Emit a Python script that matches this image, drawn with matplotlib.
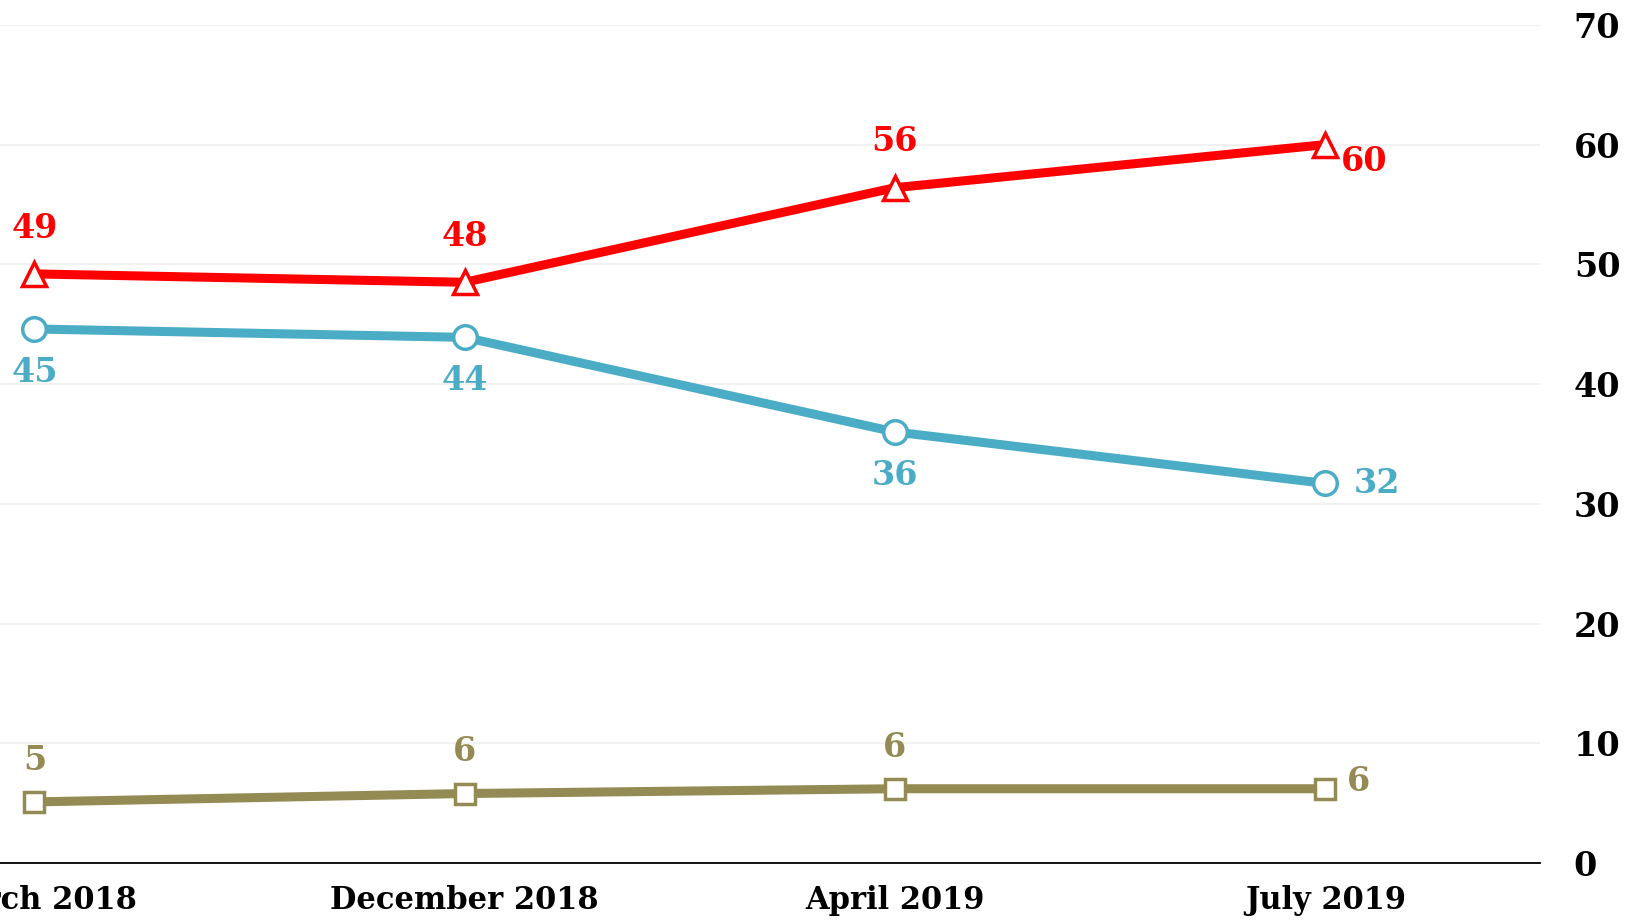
import matplotlib.pyplot as plt

# survey waves and values (plotted positions, shown labels)
months = ["March 2018", "December 2018", "April 2019", "July 2019"]
red_vals = [49.2, 48.5, 56.4, 60.0]
red_labels = ["49", "48", "56", "60"]
blue_vals = [44.6, 43.9, 36.0, 31.7]
blue_labels = ["45", "44", "36", "32"]
olive_vals = [5.1, 5.8, 6.2, 6.2]
olive_labels = ["5", "6", "6", "6"]

RED = "#ff0000"
BLUE = "#4bacc6"
OLIVE = "#948a54"

plt.rcParams['font.family'] = ['DejaVu Serif']

fig = plt.figure(figsize=(16.37, 9.21), dpi=100)
ax = fig.add_axes([0.0, 0.063, 0.941, 0.910])

x = list(range(len(months)))

ax.plot(x, red_vals, color=RED, lw=6.5, marker='^', ms=17, mfc='white',
        mec=RED, mew=2.5, zorder=4, clip_on=False)
ax.plot(x, blue_vals, color=BLUE, lw=6.5, marker='o', ms=17, mfc='white',
        mec=BLUE, mew=2.5, zorder=4, clip_on=False)
ax.plot(x, olive_vals, color=OLIVE, lw=6.5, marker='s', ms=15, mfc='white',
        mec=OLIVE, mew=2.5, zorder=4, clip_on=False)

lab_kw = dict(textcoords='offset points', fontsize=24, fontweight='semibold',
              ha='center', va='center')

for i, (v, t) in enumerate(zip(red_vals, red_labels)):
    off = (0, 33) if i < 3 else (28, -12)
    ax.annotate(t, (i, v), xytext=off, color=RED, **lab_kw)

for i, (v, t) in enumerate(zip(blue_vals, blue_labels)):
    off = (0, -31) if i < 3 else (37, 0)
    ax.annotate(t, (i, v), xytext=off, color=BLUE, **lab_kw)

for i, (v, t) in enumerate(zip(olive_vals, olive_labels)):
    off = (0, 30) if i < 3 else (24, 5)
    ax.annotate(t, (i, v), xytext=off, color=OLIVE, **lab_kw)

ax.set_xlim(-0.08, 3.5)
ax.set_ylim(0, 70)
ax.set_yticks(range(0, 71, 10))
ax.set_xticks(x)
ax.set_xticklabels(months)

ax.yaxis.tick_right()
ax.grid(axis='y', color='#efefef', lw=1.2)
ax.set_axisbelow(True)
for s in ['top', 'left', 'right']:
    ax.spines[s].set_visible(False)
ax.spines['bottom'].set_color('black')
ax.spines['bottom'].set_linewidth(1.3)

ax.tick_params(axis='y', length=0, pad=24, labelsize=24)
ax.tick_params(axis='x', length=0, pad=16, labelsize=22)
for lbl in ax.get_yticklabels() + ax.get_xticklabels():
    lbl.set_fontweight('bold')
for lbl in ax.get_yticklabels():
    lbl.set_horizontalalignment('left')

fig.savefig('out.png', dpi=100)
